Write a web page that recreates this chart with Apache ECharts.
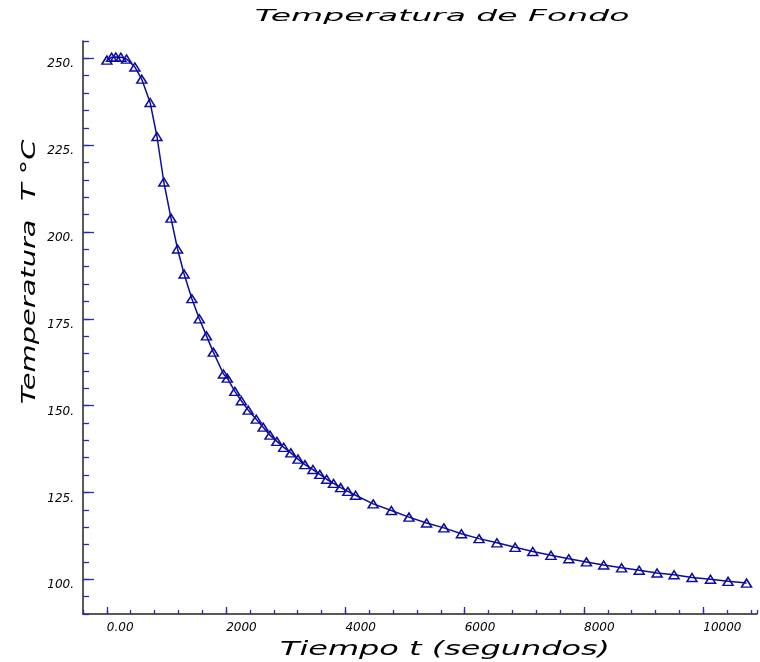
<!DOCTYPE html>
<html>
<head>
<meta charset="utf-8">
<script src="https://cdn.jsdelivr.net/npm/echarts@6/dist/echarts.min.js"></script>
<style>
html,body{margin:0;padding:0;background:#fff;}
#chart{width:760px;height:662px;}
</style>
</head>
<body>
<div id="chart"></div>
<script>
// Tiempo t (segundos)
const tiempo = [0, 80, 150, 235, 330, 470, 585, 725, 840, 955, 1075, 1185, 1295, 1425, 1550, 1670, 1785, 1955, 2020, 2145, 2255, 2370, 2505, 2620, 2735, 2850, 2965, 3085, 3205, 3320, 3455, 3570, 3685, 3800, 3920, 4040, 4170, 4465, 4770, 5065, 5360, 5650, 5945, 6240, 6540, 6845, 7140, 7445, 7745, 8040, 8330, 8630, 8925, 9225, 9510, 9810, 10120, 10415, 10725];
// Temperatura T °C
const temperatura = [249.5, 250.3, 250.4, 250.3, 249.8, 247.5, 244.0, 237.3, 227.5, 214.4, 204.0, 195.1, 187.9, 180.8, 175.0, 170.1, 165.4, 159.1, 157.9, 154.1, 151.4, 148.7, 146.1, 143.8, 141.5, 139.7, 138.0, 136.4, 134.6, 133.0, 131.6, 130.2, 128.8, 127.6, 126.4, 125.3, 124.2, 121.7, 119.8, 117.9, 116.2, 114.8, 113.1, 111.7, 110.5, 109.2, 108.0, 106.9, 105.9, 105.0, 104.1, 103.3, 102.6, 101.8, 101.3, 100.5, 100.0, 99.4, 98.9];
// Tick labels
const xLabelValues = [0, 2000, 4000, 6000, 8000, 10000];
const xLabelTexts = ['0.00', '2000', '4000', '6000', '8000', '10000'];
const yLabelValues = [100, 125, 150, 175, 200, 225, 250];
const yLabelTexts = ['100.', '125.', '150.', '175.', '200.', '225.', '250.'];

const titulo = 'Temperatura de Fondo';
const nombreX = 'Tiempo t (segundos)';
const nombreY = 'Temperatura  T °C';

const BLUE = '#0c0ca0';
const TICK = '#2a2ab4';
const labelFont = { fontFamily: 'DejaVu Sans', fontStyle: 'italic', fontSize: 12, color: '#000' };

const chart = echarts.init(document.getElementById('chart'), null, { renderer: 'canvas' });

const xMin = -400, xMax = 10900, yMin = 90, yMax = 255;

const option = {
  animation: false,
  backgroundColor: '#fff',
  grid: { left: 83, right: 3, top: 41, bottom: 48, containLabel: false },
  xAxis: [
    {
      type: 'value', min: xMin, max: xMax, interval: 400, position: 'bottom',
      axisLine: { show: true, onZero: false, lineStyle: { color: '#222', width: 1.5 } },
      axisTick: { show: true, inside: true, length: 4, lineStyle: { color: TICK, width: 1.3 } },
      axisLabel: { show: false },
      splitLine: { show: false }
    },
    {
      type: 'value', min: xMin, max: xMax, position: 'bottom', offset: 0,
      axisLine: { show: false, onZero: false },
      axisTick: { show: true, inside: true, length: 7, customValues: xLabelValues, lineStyle: { color: TICK, width: 1.3 } },
      axisLabel: Object.assign({
        show: true, customValues: xLabelValues, margin: 8, align: 'left',
        formatter: function (v) { const i = xLabelValues.indexOf(v); return i >= 0 ? xLabelTexts[i] : ''; }
      }, labelFont),
      splitLine: { show: false }
    }
  ],
  yAxis: [
    {
      type: 'value', min: yMin, max: yMax, interval: 5, position: 'left',
      axisLine: { show: true, onZero: false, lineStyle: { color: '#222', width: 1.5 } },
      axisTick: { show: true, inside: true, length: 6, lineStyle: { color: TICK, width: 1.3 } },
      axisLabel: { show: false },
      splitLine: { show: false }
    },
    {
      type: 'value', min: yMin, max: yMax, position: 'left', offset: 0,
      axisLine: { show: false, onZero: false },
      axisTick: { show: true, inside: true, length: 11, customValues: yLabelValues, lineStyle: { color: TICK, width: 1.3 } },
      axisLabel: Object.assign({
        show: true, customValues: yLabelValues, margin: 9, verticalAlign: 'top',
        formatter: function (v) { const i = yLabelValues.indexOf(v); return i >= 0 ? yLabelTexts[i] : ''; }
      }, labelFont),
      splitLine: { show: false }
    }
  ],
  graphic: [
    {
      type: 'text', x: 442, y: 17, scaleX: 2.2, scaleY: 1,
      style: { text: titulo, font: 'italic 15px "DejaVu Sans"', fill: '#000', align: 'center', verticalAlign: 'middle', textAlign: 'center', textVerticalAlign: 'middle' }
    },
    {
      type: 'text', x: 445, y: 650, scaleX: 1.68, scaleY: 1,
      style: { text: nombreX, font: 'italic 19px "DejaVu Sans"', fill: '#000', align: 'center', verticalAlign: 'middle', textAlign: 'center', textVerticalAlign: 'middle' }
    },
    {
      type: 'text', x: 30, y: 272, rotation: Math.PI / 2, scaleX: 1.52, scaleY: 1,
      style: { text: nombreY, font: 'italic 19px "DejaVu Sans"', fill: '#000', align: 'center', verticalAlign: 'middle', textAlign: 'center', textVerticalAlign: 'middle' }
    }
  ],
  series: [
    {
      type: 'line', xAxisIndex: 0, yAxisIndex: 0,
      data: tiempo.map(function (t, i) { return [t, temperatura[i]]; }),
      symbol: 'triangle', symbolSize: [10, 8], showSymbol: true,
      lineStyle: { color: BLUE, width: 1.5 },
      itemStyle: { color: 'rgba(255,255,255,0)', borderColor: BLUE, borderWidth: 1.5 },
      clip: false
    }
  ]
};
chart.setOption(option);
</script>
</body>
</html>
